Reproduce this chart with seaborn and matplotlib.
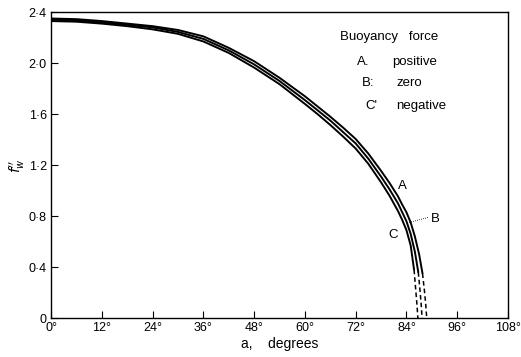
import matplotlib
matplotlib.use("Agg")
import matplotlib.pyplot as plt
import seaborn as sns
import pandas as pd

# ---- data ----
angles_A = [0, 6, 12, 18, 24, 30, 36, 42, 48, 54, 60, 63, 66, 69, 72, 75, 78, 80, 82, 83, 84, 85, 86, 87, 87.8]
values_A = [2.35, 2.345, 2.33, 2.31, 2.29, 2.26, 2.21, 2.12, 2.015, 1.885, 1.74, 1.66, 1.58, 1.495, 1.405,
            1.29, 1.155, 1.06, 0.955, 0.89, 0.83, 0.75, 0.64, 0.50, 0.35]
dash_angles_A = [87.8, 88.3, 88.6, 88.8]
dash_values_A = [0.35, 0.20, 0.09, 0.0]

angles_B = [0, 6, 12, 18, 24, 30, 36, 42, 48, 54, 60, 63, 66, 69, 72, 75, 78, 80, 82, 83, 84, 85, 86, 86.8]
values_B = [2.34, 2.335, 2.32, 2.30, 2.28, 2.245, 2.19, 2.10, 1.99, 1.86, 1.71, 1.63, 1.55, 1.46, 1.37,
            1.25, 1.11, 1.01, 0.90, 0.83, 0.76, 0.66, 0.52, 0.36]
dash_angles_B = [86.8, 87.2, 87.5, 87.7]
dash_values_B = [0.36, 0.22, 0.10, 0.0]

angles_C = [0, 6, 12, 18, 24, 30, 36, 42, 48, 54, 60, 63, 66, 69, 72, 75, 78, 80, 82, 83, 84, 85, 85.8]
values_C = [2.33, 2.325, 2.31, 2.29, 2.265, 2.23, 2.17, 2.08, 1.965, 1.835, 1.68, 1.60, 1.515, 1.425, 1.33,
            1.21, 1.065, 0.96, 0.84, 0.77, 0.69, 0.57, 0.38]
dash_angles_C = [85.8, 86.2, 86.5, 86.7]
dash_values_C = [0.38, 0.22, 0.10, 0.0]

x_ticks = [0, 12, 24, 36, 48, 60, 72, 84, 96, 108]
x_tick_labels = ["0°", "12°", "24°", "36°", "48°", "60°", "72°", "84°", "96°", "108°"]
y_ticks = [0, 0.4, 0.8, 1.2, 1.6, 2.0, 2.4]
y_tick_labels = ["0", "0·4", "0·8", "1·2", "1·6", "2·0", "2·4"]

legend_title = "Buoyancy   force"
legend_keys = ["A.", "B:", "C'"]
legend_names = ["positive", "zero", "negative"]

sns.set_theme(style="ticks")
plt.rcParams["font.family"] = ["Liberation Sans", "DejaVu Sans"]
plt.rcParams["text.color"] = "black"
plt.rcParams["axes.labelcolor"] = "black"

fig = plt.figure(figsize=(5.21, 3.57), dpi=100)
ax = fig.add_axes([0.098, 0.109, 0.877, 0.857])

solid = [(angles_A, values_A), (angles_B, values_B), (angles_C, values_C)]
dashed = [(dash_angles_A, dash_values_A), (dash_angles_B, dash_values_B), (dash_angles_C, dash_values_C)]
for xs, ys in solid:
    df = pd.DataFrame({"a": xs, "f": ys})
    sns.lineplot(data=df, x="a", y="f", ax=ax, color="black", lw=1.4,
                 sort=False, estimator=None)
for xs, ys in dashed:
    df = pd.DataFrame({"a": xs, "f": ys})
    sns.lineplot(data=df, x="a", y="f", ax=ax, color="black", lw=1.1,
                 sort=False, estimator=None, linestyle=(0, (3, 2)))

ax.set_xlim(0, 108)
ax.set_ylim(0, 2.4)
ax.set_xticks(x_ticks)
ax.set_xticklabels(x_tick_labels)
ax.set_yticks(y_ticks)
ax.set_yticklabels(y_tick_labels)
ax.tick_params(direction="in", length=5, width=0.8, labelsize=9, colors="black", pad=3)
for s in ax.spines.values():
    s.set_linewidth(1.0)
    s.set_color("black")
    s.set_visible(True)

ax.set_xlabel("a,    degrees", fontsize=10, labelpad=2, color="black")
ax.set_ylabel("$f_w''$", fontsize=10, labelpad=1, color="black")

# legend block as text
ax.text(0.632, 0.92, legend_title, transform=ax.transAxes, fontsize=9.5, va="center", ha="left", color="black")
ys_leg = [0.837, 0.768, 0.693]
xs_key = [0.67, 0.68, 0.687]
xs_name = [0.746, 0.755, 0.755]
for yk, xk, xn, k, n in zip(ys_leg, xs_key, xs_name, legend_keys, legend_names):
    ax.text(xk, yk, k, transform=ax.transAxes, fontsize=9.5, va="center", ha="left", color="black")
    ax.text(xn, yk, n, transform=ax.transAxes, fontsize=9.5, va="center", ha="left", color="black")

# curve labels
ax.text(83.1, 1.04, "A", fontsize=9.5, ha="center", va="center", color="black")
ax.text(90.9, 0.78, "B", fontsize=9.5, ha="center", va="center", color="black")
ax.text(80.8, 0.65, "C", fontsize=9.5, ha="center", va="center", color="black")
ax.plot([84.6, 89.2], [0.75, 0.79], color="black", lw=0.6, linestyle=(0, (1, 1.5)))

fig.savefig("out.png", dpi=100, facecolor="white")
